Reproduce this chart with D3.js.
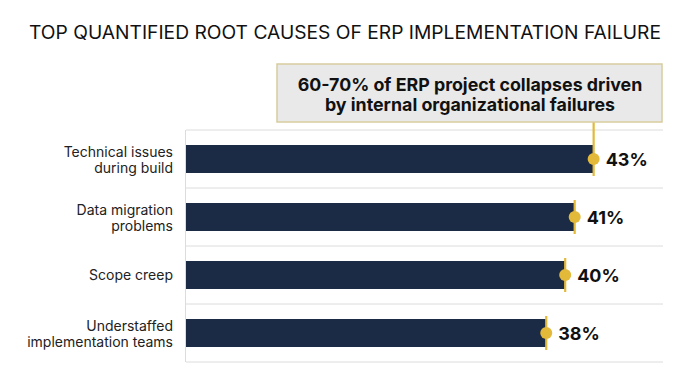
<!DOCTYPE html>
<html><head><meta charset="utf-8">
<script src="https://cdn.jsdelivr.net/npm/d3@7"></script>
<style>body{margin:0;background:#fff}svg{display:block}</style>
</head><body>
<svg id="c" width="690" height="385"></svg>
<script>
const categories = [["Technical issues","during build"],["Data migration","problems"],["Scope creep"],["Understaffed","implementation teams"]];
const values = [43, 41, 40, 38];
const valueLabels = ["43%","41%","40%","38%"];
const title = "TOP QUANTIFIED ROOT CAUSES OF ERP IMPLEMENTATION FAILURE";
const annotation = ["60-70% of ERP project collapses driven","by internal organizational failures"];

const svg = d3.select("#c");
const W = 690, H = 385;
const m = {left:186, right:663, top:130, bottom:362};
const x = d3.scaleLinear().domain([0, 50]).range([m.left, m.left + 50*9.48]);
const y = d3.scaleBand().domain(d3.range(values.length)).range([m.top, m.bottom]).paddingInner(0).paddingOuter(0);
const barH = 28;
const navy = "#1b2b45", gold = "#e3b93a", grid = "#dcdcdc";

// title
const t = svg.append("text").attr("x", W/2).attr("y", 39).attr("text-anchor","middle")
  .attr("font-family","Inter, 'Open Sans', sans-serif").attr("font-size",18).attr("fill","#111").text(title);
t.attr("textLength", 632).attr("lengthAdjust","spacingAndGlyphs");

// grid lines
const gl = d3.range(values.length+1).map(i => i < values.length ? y(i) : m.bottom);
svg.selectAll(".g").data(gl).join("line")
  .attr("x1", m.left).attr("x2", m.right).attr("y1", d=>d).attr("y2", d=>d)
  .attr("stroke", grid).attr("stroke-width",1);
svg.append("line").attr("x1",m.left-0.5).attr("x2",m.left-0.5).attr("y1",m.top).attr("y2",m.bottom)
  .attr("stroke",grid).attr("stroke-width",1);

// bars
const cy = i => y(i) + y.bandwidth()/2;
svg.selectAll(".bar").data(values).join("rect")
  .attr("x", x(0)).attr("y",(d,i)=>cy(i)-barH/2).attr("width", d=>x(d)-x(0)).attr("height", barH)
  .attr("fill", navy);

// markers
svg.selectAll(".ml").data(values).join("line")
  .attr("x1", d=>x(d)).attr("x2", d=>x(d))
  .attr("y1",(d,i)=> i===0 ? 122 : cy(i)-barH/2-3).attr("y2",(d,i)=>cy(i)+barH/2+3)
  .attr("stroke", gold).attr("stroke-width", 2.2);
svg.selectAll(".mc").data(values).join("circle")
  .attr("cx", d=>x(d)).attr("cy",(d,i)=>cy(i)).attr("r",6).attr("fill",gold);

// value labels
svg.selectAll(".vl").data(values).join("text")
  .attr("x", d=>x(d)+12).attr("y",(d,i)=>cy(i)+7)
  .attr("font-family","Inter, sans-serif").attr("font-weight",700).attr("font-size",18)
  .attr("fill","#111").text((d,i)=>valueLabels[i]);

// category labels
const cl = svg.selectAll(".cl").data(categories).join("text")
  .attr("text-anchor","end").attr("font-family","Inter, sans-serif").attr("font-size",14).attr("fill","#222");
cl.each(function(lines,i){
  const el = d3.select(this);
  const base = lines.length === 1 ? cy(i)+5 : cy(i)-2;
  lines.forEach((s,j)=> el.append("tspan").attr("x",173).attr("y", base + j*16).text(s));
});

// annotation box
svg.append("rect").attr("x",277).attr("y",64).attr("width",385).attr("height",58)
  .attr("fill","#e9e9e9").attr("stroke","#d8cc9e").attr("stroke-width",1.5);
const at = svg.append("text").attr("text-anchor","middle").attr("font-family","Inter, sans-serif")
  .attr("font-weight",700).attr("font-size",20).attr("fill","#111");
annotation.forEach((s,j)=> at.append("tspan").attr("x",470).attr("y", 91 + j*20).text(s));
// fit width of first line to ~345px
const w0 = at.select("tspan").node().getComputedTextLength();
at.attr("font-size", 20*345/w0);
</script>
</body></html>
